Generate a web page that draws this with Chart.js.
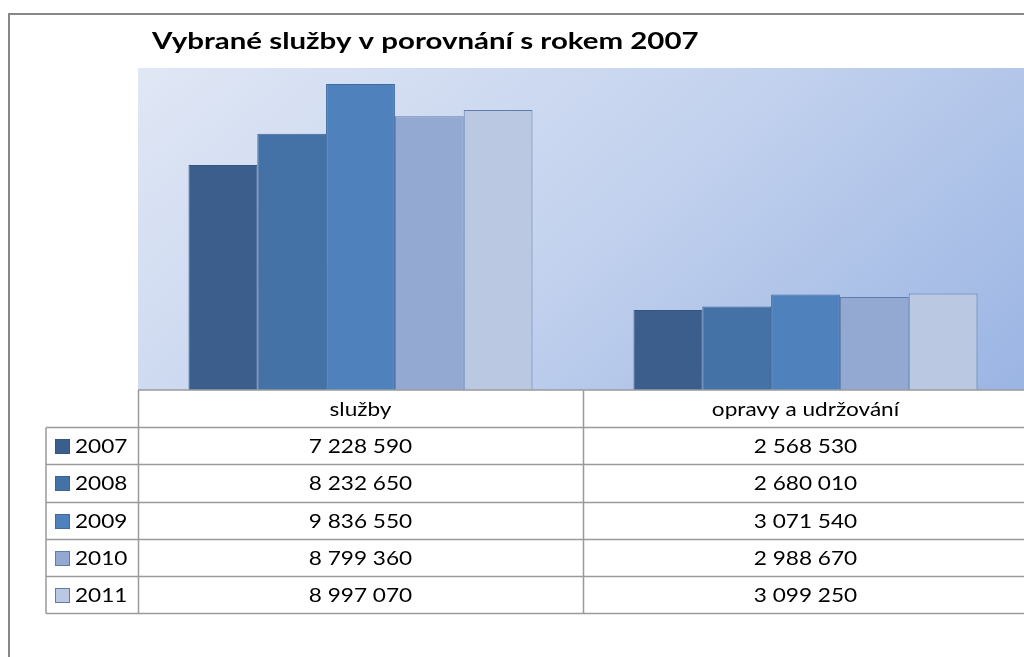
<!DOCTYPE html>
<html>
<head>
<meta charset="utf-8">
<script src="https://cdn.jsdelivr.net/npm/chart.js@4/dist/chart.umd.min.js"></script>
<style>
  html, body { margin: 0; padding: 0; overflow: hidden; background: #ffffff; }
  #wrap { position: absolute; left: 0; top: 0; width: 1040px; height: 700px; }
</style>
</head>
<body>
<div id="wrap"><canvas id="c"></canvas></div>
<script>
const chartTitle = 'Vybrané služby v porovnání s rokem 2007';
const categories = ['služby', 'opravy a udržování'];
const years = ['2007', '2008', '2009', '2010', '2011'];
const values2007 = [7228590, 2568530];
const values2008 = [8232650, 2680010];
const values2009 = [9836550, 3071540];
const values2010 = [8799360, 2988670];
const values2011 = [8997070, 3099250];
const seriesValues = [values2007, values2008, values2009, values2010, values2011];
const fillColors = ['#3b5e8c', '#4472a6', '#4f81bd', '#94a9d1', '#bac8e1'];
const borderColors = ['#34557f', '#3c6597', '#416ba0', '#5d7cac', '#5b7cad'];

function fmt(n) {
  return String(n).replace(/\B(?=(\d{3})+(?!\d))/g, ' ');
}

const FONT = '"Lato", "Open Sans", sans-serif';
const SX = 1.13;

function txt(ctx, s, x, y, font, align, sx) {
  ctx.save();
  ctx.font = font;
  ctx.textBaseline = 'alphabetic';
  ctx.textAlign = align;
  ctx.fillStyle = '#000000';
  ctx.translate(x, y);
  ctx.scale(sx, 1);
  ctx.fillText(s, 0, 0);
  ctx.restore();
}

const decor = {
  id: 'decor',
  beforeDraw(chart) {
    const ctx = chart.ctx;
    const a = chart.chartArea;
    ctx.save();
    ctx.fillStyle = '#ffffff';
    ctx.fillRect(0, 0, chart.width, chart.height);
    // outer chart border
    ctx.strokeStyle = '#878787';
    ctx.lineWidth = 2;
    ctx.beginPath();
    ctx.moveTo(9, chart.height);
    ctx.lineTo(9, 14);
    ctx.lineTo(chart.width, 14);
    ctx.stroke();
    // plot area gradient
    const g = ctx.createLinearGradient(a.left, a.top, a.left + 529, a.top + 627);
    g.addColorStop(0, '#e0e7f5');
    g.addColorStop(0.5, '#c3d2ee');
    g.addColorStop(1, '#9ab4e3');
    ctx.fillStyle = g;
    ctx.fillRect(a.left, a.top, a.right - a.left, a.bottom - a.top);
    ctx.restore();
  },
  afterDraw(chart) {
    const ctx = chart.ctx;
    const a = chart.chartArea;
    const xs = chart.scales.x;
    const n = categories.length;
    const cw = (a.right - a.left) / n;
    const rowH = 37.2;
    const top = a.bottom;
    const legendLeft = 46;
    const rows = years.length;
    const bottom = top + rowH * (rows + 1);

    // title
    txt(ctx, chartTitle, 152, 49, 'bold 23px ' + FONT, 'left', 1.28);

    ctx.save();
    ctx.strokeStyle = '#9a9a9a';
    ctx.lineWidth = 1.5;
    ctx.beginPath();
    ctx.moveTo(a.left, top);
    ctx.lineTo(chart.width, top);
    for (let r = 1; r <= rows + 1; r++) {
      const y = Math.round(top + r * rowH) + 0.5;
      ctx.moveTo(legendLeft, y);
      ctx.lineTo(chart.width, y);
    }
    ctx.moveTo(legendLeft, Math.round(top + rowH) + 0.5);
    ctx.lineTo(legendLeft, Math.round(bottom) + 0.5);
    for (let i = 0; i <= n; i++) {
      const x = Math.round(a.left + i * cw) + 0.5;
      ctx.moveTo(x, top);
      ctx.lineTo(x, Math.round(bottom) + 0.5);
    }
    ctx.stroke();
    ctx.restore();

    for (let i = 0; i < n; i++) {
      const cx = xs.getPixelForValue(i);
      txt(ctx, categories[i], cx, top + 26, '20px ' + FONT, 'center', SX);
    }
    for (let r = 0; r < rows; r++) {
      const rt = top + (r + 1) * rowH;
      ctx.save();
      ctx.fillStyle = fillColors[r];
      ctx.strokeStyle = borderColors[r];
      ctx.lineWidth = 1;
      ctx.fillRect(55, Math.round(rt) + 12, 15, 15);
      ctx.strokeRect(55.5, Math.round(rt) + 12.5, 14, 14);
      ctx.restore();
      txt(ctx, years[r], 75, rt + 26, '20px ' + FONT, 'left', SX);
      for (let i = 0; i < n; i++) {
        const cx = xs.getPixelForValue(i);
        txt(ctx, fmt(seriesValues[r][i]), cx, rt + 26, '20px ' + FONT, 'center', SX);
      }
    }
  }
};

const canvas = document.getElementById('c');
canvas.width = 1040;
canvas.height = 700;

new Chart(canvas, {
  type: 'bar',
  data: {
    labels: categories,
    datasets: years.map((y, i) => ({
      label: y,
      data: seriesValues[i],
      backgroundColor: fillColors[i],
      borderColor: borderColors[i],
      borderWidth: 1,
      borderSkipped: 'bottom',
      categoryPercentage: 0.773,
      barPercentage: 1.0
    }))
  },
  options: {
    responsive: false,
    animation: false,
    devicePixelRatio: 1,
    layout: { padding: { left: 138, top: 68, right: 12, bottom: 310 } },
    plugins: {
      legend: { display: false },
      title: { display: false },
      tooltip: { enabled: false }
    },
    scales: {
      x: { display: false, grid: { display: false } },
      y: { display: false, min: 0, max: 10350000, grid: { display: false } }
    }
  },
  plugins: [decor]
});
</script>
</body>
</html>
